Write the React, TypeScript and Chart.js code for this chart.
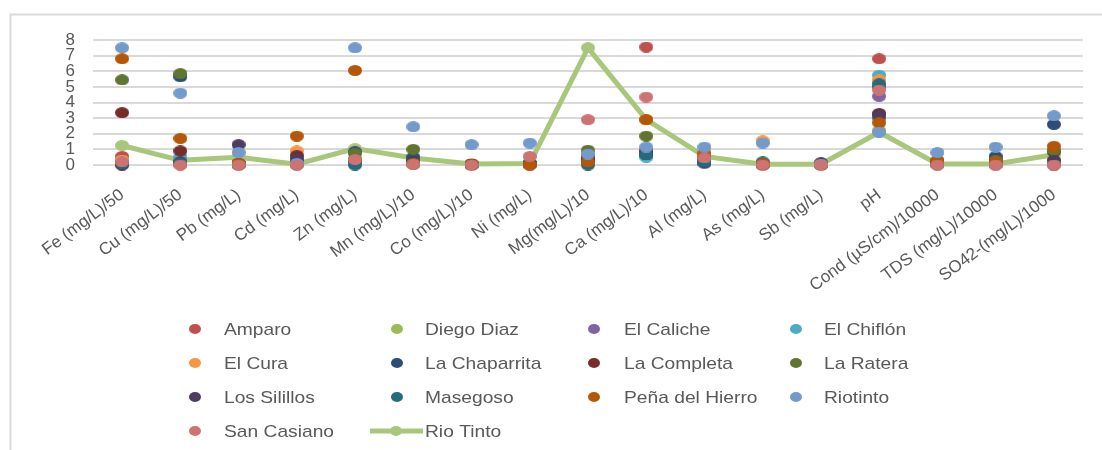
import React, { useEffect, useRef } from "react";
import { Chart, registerables } from "chart.js";

Chart.register(...registerables);

// ---------- data ----------
const categories = [
  "Fe (mg/L)/50",
  "Cu (mg/L)/50",
  "Pb (mg/L)",
  "Cd (mg/L)",
  "Zn (mg/L)",
  "Mn (mg/L)/10",
  "Co (mg/L)/10",
  "Ni (mg/L)",
  "Mg(mg/L)/10",
  "Ca (mg/L)/10",
  "Al (mg/L)",
  "As (mg/L)",
  "Sb (mg/L)",
  "pH",
  "Cond (µS/cm)/10000",
  "TDS (mg/L)/10000",
  "SO42-(mg/L)/1000",
];

const yMin = 0;
const yMax = 8;
const yStep = 1;

const seriesNames = [
  "Amparo",
  "Diego Diaz",
  "El Caliche",
  "El Chiflón",
  "El Cura",
  "La Chaparrita",
  "La Completa",
  "La Ratera",
  "Los Silillos",
  "Masegoso",
  "Peña del Hierro",
  "Riotinto",
  "San Casiano",
];

const amparo = [0.55, 0.1, 0.05, 0.1, 0.2, 0.1, 0.02, 0.1, 0.5, 7.55, 0.3, 0.02, 0.02, 6.8, 0.1, 0.05, 0.1];
const diegoDiaz = [0.3, 0.2, 0.05, 0.05, 0.4, 0.3, 0.02, 0.05, 0.6, 0.8, 0.2, 0.02, 0.02, 2.2, 0.05, 0.05, 0.3];
const elCaliche = [0.1, 0.05, 0.02, 0.02, 0.1, 0.05, 0.01, 0.02, 0.3, 0.6, 0.1, 0.02, 0.02, 4.4, 0.05, 0.03, 0.1];
const elChiflon = [0.2, 0.5, 0.05, 0.05, 0.1, 0.1, 0.02, 0.05, 0.4, 0.5, 0.2, 0.02, 0.02, 5.75, 0.05, 0.03, 0.1];
const elCura = [0.3, 0.1, 0.05, 0.9, 0.3, 0.1, 0.02, 0.05, 0.3, 0.85, 0.2, 1.55, 0.02, 5.45, 0.1, 0.05, 0.2];
const laChaparrita = [0.05, 5.65, 0.05, 0.2, 0.85, 0.5, 0.05, 0.1, 0.3, 0.7, 0.15, 0.05, 0.02, 5.0, 0.2, 0.55, 2.6];
const laCompleta = [3.35, 0.9, 0.1, 0.6, 0.3, 0.2, 0.05, 0.1, 0.5, 0.9, 0.4, 0.05, 0.02, 3.3, 0.2, 0.3, 0.85];
const laRatera = [5.45, 5.85, 0.1, 0.1, 0.75, 1.0, 0.05, 0.1, 0.95, 1.85, 0.5, 0.05, 0.02, 3.0, 0.2, 0.3, 0.95];
const losSilillos = [0.0, 0.2, 1.3, 0.4, 0.3, 0.2, 0.02, 0.05, 0.3, 0.7, 0.3, 0.02, 0.15, 3.2, 0.1, 0.1, 0.3];
const masegoso = [0.1, 0.1, 0.02, 0.05, 0.0, 0.1, 0.02, 0.05, 0.0, 0.65, 0.2, 0.2, 0.02, 5.2, 0.05, 0.05, 0.0];
const penaDelHierro = [6.8, 1.7, 0.1, 1.85, 6.05, 0.1, 0.05, 0.0, 0.2, 2.9, 0.75, 0.1, 0.05, 2.7, 0.3, 0.2, 1.2];
const riotinto = [7.5, 4.6, 0.8, 0.1, 7.5, 2.45, 1.3, 1.4, 0.7, 1.15, 1.15, 1.4, 0.05, 2.1, 0.8, 1.15, 3.15];
const sanCasiano = [0.2, 0.0, 0.0, 0.0, 0.35, 0.05, 0.0, 0.55, 2.9, 4.35, 0.45, 0.0, 0.0, 4.8, 0.0, 0.0, 0.0];

const rioTintoName = "Rio Tinto";
const rioTinto = [1.25, 0.3, 0.5, 0.05, 1.05, 0.45, 0.07, 0.1, 7.5, 2.9, 0.55, 0.05, 0.05, 2.1, 0.07, 0.07, 0.65];

const seriesValues = [
  amparo,
  diegoDiaz,
  elCaliche,
  elChiflon,
  elCura,
  laChaparrita,
  laCompleta,
  laRatera,
  losSilillos,
  masegoso,
  penaDelHierro,
  riotinto,
  sanCasiano,
];

// ---------- styles ----------
const seriesColors = [
  "#C0504D",
  "#9BBB59",
  "#8064A2",
  "#4BACC6",
  "#F79646",
  "#2C4D75",
  "#772C2A",
  "#5F7530",
  "#4D3B62",
  "#276A7C",
  "#B65708",
  "#729ACA",
  "#CD7371",
];
const lineColor = "#A8C77A";
const textColor = "#595959";
const gridColor = "#D9D9D9";
const fontFamily = '"Liberation Sans", Arial, Helvetica, sans-serif';

const W = 1102;
const H = 450;

function makeDot(color: string, w: number, h: number): HTMLCanvasElement {
  const c = document.createElement("canvas");
  c.width = w;
  c.height = h;
  const ctx = c.getContext("2d")!;
  ctx.fillStyle = color;
  ctx.beginPath();
  ctx.ellipse(w / 2, h / 2, w / 2, h / 2, 0, 0, Math.PI * 2);
  ctx.fill();
  return c;
}

const framePlugin = {
  id: "frame",
  beforeDraw(chart: any) {
    const ctx = chart.ctx;
    ctx.save();
    ctx.strokeStyle = gridColor;
    ctx.lineWidth = 2;
    ctx.beginPath();
    ctx.moveTo(10.5, H);
    ctx.lineTo(10.5, 14.5);
    ctx.lineTo(W, 14.5);
    ctx.stroke();
    ctx.restore();
  },
};

const legendMarkerX = [195, 397, 594, 796];
const legendTextX = [224, 425, 624, 824];
const legendRows = [329, 363, 397, 431];
const legendFontSize = 17;
const legendStretch = 1.13;

const gridLegendPlugin = {
  id: "gridLegend",
  afterDraw(chart: any) {
    const ctx = chart.ctx;
    const datasets = chart.data.datasets;
    ctx.save();
    datasets.forEach((ds: any, k: number) => {
      const col = k % 4;
      const x = legendMarkerX[col];
      const tx = legendTextX[col];
      const y = legendRows[Math.floor(k / 4)];
      const color = ds.borderColor as string;
      ctx.fillStyle = color;
      if (ds.showLine === false) {
        ctx.beginPath();
        ctx.ellipse(x, y, 6, 5, 0, 0, Math.PI * 2);
        ctx.fill();
      } else {
        ctx.strokeStyle = color;
        ctx.lineWidth = 5;
        ctx.beginPath();
        ctx.moveTo(x - 27, y);
        ctx.lineTo(x + 26, y);
        ctx.stroke();
        ctx.beginPath();
        ctx.ellipse(x - 1, y, 6, 5, 0, 0, Math.PI * 2);
        ctx.fill();
      }
      ctx.save();
      ctx.translate(tx, y + 1);
      ctx.scale(legendStretch, 1);
      ctx.font = `${legendFontSize}px ${fontFamily}`;
      ctx.textBaseline = "middle";
      ctx.textAlign = "left";
      ctx.fillStyle = textColor;
      ctx.fillText(ds.label, 0, 0);
      ctx.restore();
    });
    ctx.restore();
  },
};

export default function App() {
  const ref = useRef<HTMLCanvasElement | null>(null);

  useEffect(() => {
    document.body.style.margin = "0";
    const canvas = ref.current!;
    const scatterSets = seriesNames.map((name, i) => ({
      type: "line" as const,
      label: name,
      data: seriesValues[i],
      showLine: false,
      borderColor: seriesColors[i],
      backgroundColor: seriesColors[i],
      pointStyle: makeDot(seriesColors[i], 14, 11),
      pointRadius: 7,
      pointHoverRadius: 7,
      order: 50 - i,
      clip: false as const,
    }));
    const lineSet = {
      type: "line" as const,
      label: rioTintoName,
      data: rioTinto,
      showLine: true,
      borderColor: lineColor,
      backgroundColor: lineColor,
      borderWidth: 5,
      tension: 0,
      pointStyle: makeDot(lineColor, 14, 11),
      pointRadius: 7,
      pointHoverRadius: 7,
      order: 100,
      clip: false as const,
    };

    const chart = new Chart(canvas, {
      type: "line",
      data: {
        labels: categories,
        datasets: [...scatterSets, lineSet] as any,
      },
      options: {
        responsive: false,
        animation: false,
        devicePixelRatio: 1,
        layout: { padding: { top: 40, right: 19, left: 0, bottom: 0 } },
        font: { family: fontFamily },
        plugins: {
          legend: { display: false },
          tooltip: { enabled: false },
          title: { display: false },
        },
        scales: {
          x: {
            type: "category",
            offset: true,
            grid: { display: false, drawTicks: false },
            border: { display: false },
            ticks: {
              autoSkip: false,
              minRotation: 37,
              maxRotation: 37,
              padding: 20,
              color: textColor,
              font: { family: fontFamily, size: 17 },
            },
            afterFit(scale: any) {
              scale.height = H - 165;
            },
          },
          y: {
            min: yMin,
            max: yMax,
            grid: { color: gridColor, lineWidth: 2, drawTicks: false },
            border: { display: false },
            ticks: {
              stepSize: yStep,
              autoSkip: false,
              padding: 18,
              color: textColor,
              font: { family: fontFamily, size: 17 },
            },
            afterFit(scale: any) {
              scale.width = 93;
            },
          },
        },
      } as any,
      plugins: [framePlugin, gridLegendPlugin],
    });
    return () => chart.destroy();
  }, []);

  return (
    <div style={{ width: W, height: H, position: "relative", background: "#fff" }}>
      <canvas ref={ref} width={W} height={H} style={{ display: "block", width: W, height: H }} />
    </div>
  );
}
